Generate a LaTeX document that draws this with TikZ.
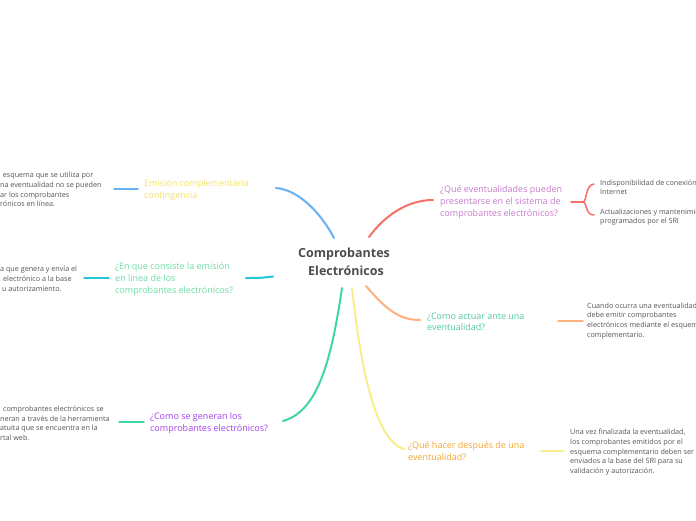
\documentclass[tikz,border=0pt]{standalone}
\usepackage{fontspec}
\setmainfont{Open Sans}
\definecolor{blueC}{HTML}{66B2F2}
\definecolor{yellowL}{HTML}{F2E46A}
\definecolor{cyanC}{HTML}{22C8D8}
\definecolor{mintL}{HTML}{6EDDA8}
\definecolor{greenC}{HTML}{40D8A0}
\definecolor{purpleL}{HTML}{A442F0}
\definecolor{redC}{HTML}{F4716A}
\definecolor{pinkL}{HTML}{C77DCB}
\definecolor{orangeC}{HTML}{FFB07F}
\definecolor{tealL}{HTML}{52C9A5}
\definecolor{yellowC}{HTML}{F7EE8C}
\definecolor{orangeL}{HTML}{F5A832}
\definecolor{txtgray}{HTML}{555555}
\definecolor{titlegray}{HTML}{4D4D4D}
\begin{document}
\begin{tikzpicture}[x=1pt,y=-1pt,
  conn/.style={line width=2pt, line cap=round},
  link/.style={line width=1.5pt, line cap=round},
  lbl/.style={font=\fontsize{9}{11.7}\selectfont, align=left, anchor=west, inner sep=0pt},
  det/.style={font=\fontsize{7.2}{9.7}\selectfont, align=left, anchor=west, inner sep=0pt, text=txtgray},
  title/.style={font=\fontsize{12.5}{18}\selectfont\bfseries, align=center, inner sep=0pt, text=titlegray}]
\useasboundingbox (0,0) rectangle (696,520);
\clip (0,0) rectangle (696,520);
\fill[white] (0,0) rectangle (696,520);

% center
\node[title] (center) at (344,262) {Comprobantes\\\hspace*{4pt}Electrónicos};

% branch 1 : Emisión complementaria
\node[lbl, text=yellowL] (l1) at (144,190) {Emisión complementaria\\contingencia};
\node[det] (d1) at (0,189.5) {\hspace*{2.7pt}esquema que se utiliza por\\na eventualidad no se pueden\\ar los comprobantes\\rónicos en línea.};
\coordinate (c1a) at (334,238);
\coordinate (c1b) at (276,188);
\coordinate (s1a) at (138,189);
\coordinate (s1b) at (114,189);
\draw[conn, blueC] (c1a) .. controls (322,215) and (300,190) .. (c1b);
\draw[link, blueC] (s1a) -- (s1b);

% branch 2 : En que consiste
\node[lbl, text=mintL] (l2) at (115,279) {¿En que consiste la emisión\\en linea de los\\comprobantes electrónicos?};
\node[det] (d2) at (0,278.7) {a que genera y envía el\\\hspace*{3pt}electrónico a la base\\\hspace*{2pt}u autorizamiento.};
\coordinate (c2a) at (273,276.5);
\coordinate (c2b) at (246,278);
\coordinate (s2a) at (109,278);
\coordinate (s2b) at (84,278);
\draw[conn, cyanC] (c2a) .. controls (262,278) and (255,278) .. (c2b);
\draw[link, cyanC] (s2a) -- (s2b);

% branch 3 : Como se generan
\node[lbl, text=purpleL] (l3) at (150,423.5) {¿Como se generan los\\comprobantes electrónicos?};
\node[det] (d3) at (0,423.3) {\hspace*{3pt}comprobantes electrónicos se\\neran a través de la herramienta\\atuita que se encuentra en la\\rtal web.};
\coordinate (c3a) at (342,288);
\coordinate (c3b) at (283,421);
\coordinate (s3a) at (144,422);
\coordinate (s3b) at (119,422);
\draw[conn, greenC] (c3a) .. controls (330,370) and (315,412) .. (c3b);
\draw[link, greenC] (s3a) -- (s3b);

% branch 4 : Qué eventualidades
\node[lbl, text=pinkL] (l4) at (440,202) {¿Qué eventualidades pueden\\presentarse en el sistema de\\comprobantes electrónicos?};
\node[det] (d4a) at (600,187.3) {Indisponibilidad de conexión\\Internet};
\node[det] (d4b) at (600,217) {Actualizaciones y mantenimientos\\programados por el SRI};
\coordinate (c4a) at (369,237);
\coordinate (c4b) at (433,200);
\coordinate (s4a) at (571,202);
\coordinate (s4b) at (583,202);
\coordinate (b4a) at (594,184);
\coordinate (b4b) at (594,215);
\draw[conn, redC] (c4a) .. controls (385,215) and (408,200) .. (c4b);
\draw[link, redC] (s4a) -- (s4b);
\draw[link, redC] (s4b) .. controls (587,202) and (585,185) .. (b4a);
\draw[link, redC] (s4b) .. controls (587,202) and (585,215) .. (b4b);

% branch 5 : Como actuar
\node[lbl, text=tealL] (l5) at (427,321.7) {¿Como actuar ante una\\eventualidad?};
\node[det] (d5) at (587,320.8) {Cuando ocurra una eventualidad\\debe emitir comprobantes\\electrónicos mediante el esquema\\complementario.};
\coordinate (c5a) at (366,286);
\coordinate (c5b) at (420,320);
\coordinate (s5a) at (558,321);
\coordinate (s5b) at (583,321);
\draw[conn, orangeC] (c5a) .. controls (385,308) and (398,320) .. (c5b);
\draw[link, orangeC] (s5a) -- (s5b);

% branch 6 : Qué hacer después
\node[lbl, text=orangeL] (l6) at (408,451) {¿Qué hacer después de una\\eventualidad?};
\node[det] (d6) at (570,452.3) {Una vez finalizada la eventualidad,\\los comprobantes emitidos por el\\esquema complementario deben ser\\enviados a la base del SRI para su\\validación y autorización.};
\coordinate (c6a) at (352,288);
\coordinate (c6b) at (404,449);
\coordinate (s6a) at (541,451);
\coordinate (s6b) at (563,451);
\draw[conn, yellowC] (c6a) .. controls (362,380) and (378,442) .. (c6b);
\draw[link, yellowC] (s6a) -- (s6b);
\end{tikzpicture}
\end{document}
